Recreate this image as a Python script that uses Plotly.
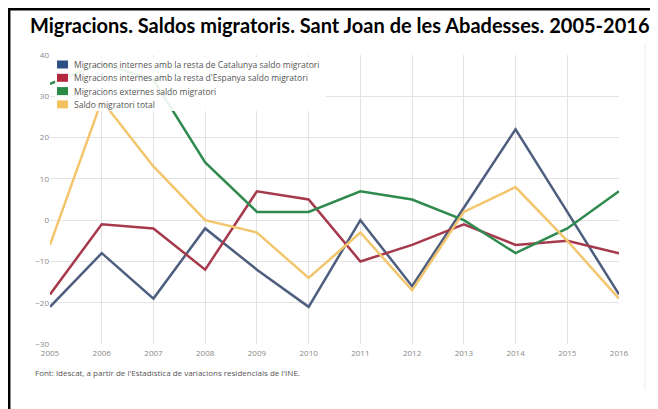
import plotly.graph_objects as go

years = [2005, 2006, 2007, 2008, 2009, 2010, 2011, 2012, 2013, 2014, 2015, 2016]
catalunya = [-21, -8, -19, -2, -12, -21, 0, -16, 3, 22, 2, -18]
espanya = [-18, -1, -2, -12, 7, 5, -10, -6, -1, -6, -5, -8]
externes = [33, 38, 34, 14, 2, 2, 7, 5, 0, -8, -2, 7]
total = [-6, 29, 13, 0, -3, -14, -3, -17, 2, 8, -5, -19]

names = [
    "Migracions internes amb la resta de Catalunya saldo migratori",
    "Migracions internes amb la resta d'Espanya saldo migratori",
    "Migracions externes saldo migratori",
    "Saldo migratori total",
]
series = [catalunya, espanya, externes, total]
line_colors = ["#4d5e7e", "#a63a4c", "#2f8a4e", "#f3c56c"]
swatch_colors = ["#2e4f86", "#b3283c", "#2a8a46", "#f5c060"]

title = "Migracions. Saldos migratoris. Sant Joan de les Abadesses. 2005-2016"
source = "Font: Idescat, a partir de l'Estadística de variacions residencials de l'INE."

# page offset (browser body margin)
OFF = 8
W, H = 650, 401
# plot area in page pixels
PX0, PX1, PY0, PY1 = 50, 619, 55, 344
L = PX0 - OFF
R = W - (PX1 - OFF)
T = PY0 - OFF
B = H - (PY1 - OFF)
pw = W - L - R
ph = H - T - B


def fx(xp):
    return (xp - OFF - L) / pw


def fy(yp):
    return (H - B - (yp - OFF)) / ph


fig = go.Figure()
for name, vals, lc in zip(names, series, line_colors):
    fig.add_trace(go.Scatter(x=years, y=vals, mode="lines", name=name,
                             line=dict(color=lc, width=2.5), showlegend=False,
                             hoverinfo="skip"))

shapes = [
    # legend background (semi-transparent, over the lines)
    dict(type="rect", xref="paper", yref="paper", x0=fx(55), x1=fx(326), y0=fy(57), y1=fy(111),
         fillcolor="rgba(255,255,255,0.9)", line=dict(width=0), layer="above"),
    dict(type="line", xref="paper", yref="paper", x0=fx(OFF), x1=fx(OFF + W + 5), y0=fy(9.2), y1=fy(9.2),
         line=dict(color="black", width=2.5)),
    dict(type="line", xref="paper", yref="paper", x0=fx(9.2), x1=fx(9.2), y0=fy(OFF), y1=fy(OFF + H + 5),
         line=dict(color="black", width=2.5)),
    dict(type="line", xref="paper", yref="paper", x0=fx(645), x1=fx(645), y0=fy(43), y1=fy(390),
         line=dict(color="#ececec", width=1)),
]

annotations = [
    dict(text="<b>" + title + "</b>", x=fx(339), y=fy(25), xref="paper", yref="paper",
         xanchor="center", yanchor="middle", showarrow=False,
         font=dict(family="Lato", size=20, color="#000")),
    dict(text=source, x=fx(33), y=fy(372), xref="paper", yref="paper",
         xanchor="left", yanchor="middle", showarrow=False,
         font=dict(family="Open Sans", size=8, color="#555")),
]

leg_y0 = 64.5
leg_dy = 13.3
for i, (name, sc) in enumerate(zip(names, swatch_colors)):
    yc = leg_y0 + i * leg_dy
    shapes.append(dict(type="rect", xref="paper", yref="paper",
                       x0=fx(57), x1=fx(68), y0=fy(yc - 4), y1=fy(yc + 4),
                       fillcolor=sc, line=dict(width=0), layer="above"))
    annotations.append(dict(text=name, x=fx(72), y=fy(yc), xref="paper", yref="paper",
                            xanchor="left", yanchor="middle", showarrow=False,
                            font=dict(family="Open Sans", size=8.5, color="#555")))

fig.update_layout(
    width=W, height=H, autosize=False,
    margin=dict(l=L, r=R, t=T, b=B),
    paper_bgcolor="white", plot_bgcolor="white",
    font=dict(family="Open Sans", color="#777"),
    showlegend=False,
    xaxis=dict(range=[2005, 2016], tickmode="array", tickvals=years,
               ticktext=[str(y) for y in years], showgrid=True,
               gridcolor="#e3e3e3", gridwidth=1, zeroline=False,
               showline=False, tickfont=dict(size=8, color="#888"), ticks="",
               ticklabelstandoff=3),
    yaxis=dict(range=[-30, 40], dtick=10, showgrid=True, gridcolor="#e3e3e3",
               gridwidth=1, zeroline=False, showline=False,
               tickfont=dict(size=8, color="#888"), ticks=""),
    annotations=annotations,
    shapes=shapes,
)

fig.write_html("out.html")
